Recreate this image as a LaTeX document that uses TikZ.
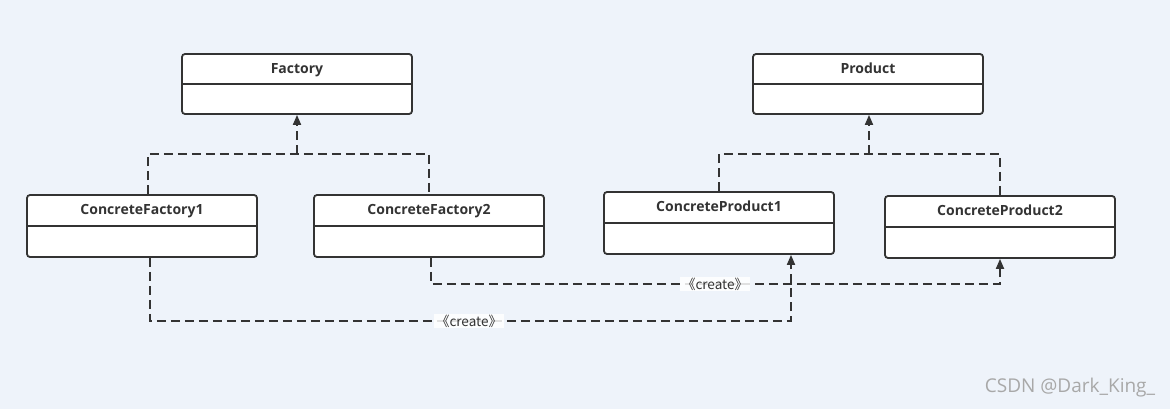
\documentclass[tikz,border=0pt]{standalone}
\usepackage{fontspec}
\setmainfont{Open Sans}
\newfontfamily\cjk{Noto Sans CJK SC}
\usetikzlibrary{arrows.meta,calc}
\definecolor{bg}{HTML}{EEF3FA}
\definecolor{ink}{HTML}{333333}
\definecolor{wm}{HTML}{A8A8A8}
\tikzset{
  cls/.style={draw=ink, line width=1.8pt, fill=white, rounded corners=3pt,
    minimum width=230pt, inner sep=0pt},
  title/.style={font=\bfseries\fontsize{14}{16}\selectfont, text=ink, inner sep=0pt},
  divider/.style={draw=ink, line width=1.8pt},
  dep/.style={draw=ink, line width=1.8pt, dash pattern=on 9pt off 5pt},
  realize/.style={dep, -{Triangle[length=10pt,width=8pt]}},
  lbl/.style={font=\cjk\fontsize{13.5}{15}\selectfont, text=ink, fill=white, fill opacity=0.85, text opacity=1, inner xsep=2pt, inner ysep=1pt}
}
\begin{document}
\begin{tikzpicture}[x=1pt,y=-1pt]
\useasboundingbox[fill=bg] (0,0) rectangle (1170,409);
% classes
\node[cls, minimum height=60pt] (F) at (297,84) {};
\node[cls, minimum height=60pt] (P) at (868,84) {};
\node[cls, minimum height=62pt] (CF1) at (142,226) {};
\node[cls, minimum height=62pt] (CF2) at (429,226) {};
\node[cls, minimum height=62pt] (CP1) at (719,223) {};
\node[cls, minimum height=62pt] (CP2) at (1000,227) {};
\foreach \n/\t in {F/Factory,P/Product,CF1/ConcreteFactory1,CF2/ConcreteFactory2,CP1/ConcreteProduct1,CP2/ConcreteProduct2}{
  \node[title, anchor=base] (\n t) at ([yshift=-20pt]\n.north) {\t};
  \draw[divider] ([xshift=0.9pt]\n.west) -- ([xshift=-0.9pt]\n.east);
}
% realization: factories
\coordinate (jf) at (297,154);
\draw[dep] ([xshift=6pt]CF1.north) |- (jf) -| (CF2.north);
\draw[realize] (jf) -- (F.south);
% realization: products
\coordinate (jp) at (869,154);
\draw[dep] (CP1.north) |- (jp) -| (CP2.north);
\draw[realize] (jp) -- ([xshift=1pt]P.south);
% create dependencies
\coordinate (c2) at (431,284);
\draw[realize] ([xshift=2pt]CF2.south) |- (c2 -| CP2.south) -- (CP2.south);
\coordinate (c1) at (150,321);
\draw[realize] ([xshift=8pt]CF1.south) |- ($(c1)+(641,0)$) -- ([xshift=72pt]CP1.south);
\node[lbl] (l2) at (715,284) {《create》};
\node[lbl] (l1) at (469,321) {《create》};
% watermark
\node[font=\fontsize{19}{22}\selectfont, text=wm, anchor=center] (wmk) at (1070,388) {CSDN @Dark\_King\_};
\end{tikzpicture}
\end{document}
